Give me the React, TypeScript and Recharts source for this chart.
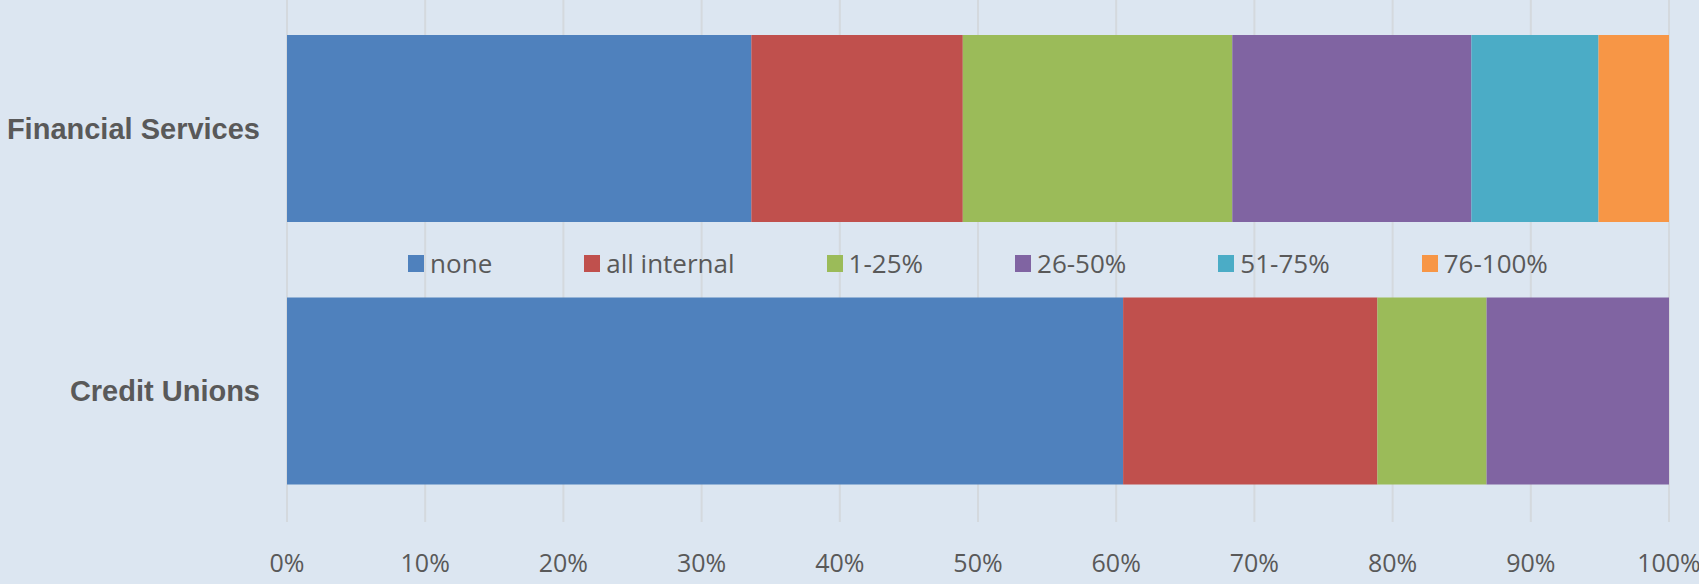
import React from "react"
import { Bar, BarChart, CartesianGrid, Legend, XAxis, YAxis } from "recharts"

const categories = ["Financial Services", "Credit Unions"]
const none = [33.6, 60.5]
const allInternal = [15.3, 18.4]
const pct1to25 = [19.5, 7.9]
const pct26to50 = [17.3, 13.2]
const pct51to75 = [9.2, 0]
const pct76to100 = [5.1, 0]
const xTicks = [0, 10, 20, 30, 40, 50, 60, 70, 80, 90, 100]

const SERIES = [
    { key: "none", name: "none", color: "#4F81BD", values: none },
    { key: "allInternal", name: "all internal", color: "#C0504D", values: allInternal },
    { key: "p1", name: "1-25%", color: "#9BBB59", values: pct1to25 },
    { key: "p26", name: "26-50%", color: "#8064A2", values: pct26to50 },
    { key: "p51", name: "51-75%", color: "#4BACC6", values: pct51to75 },
    { key: "p76", name: "76-100%", color: "#F79646", values: pct76to100 },
]

const data = categories.map((name, i) => {
    const row: Record<string, string | number> = { name }
    SERIES.forEach((s) => {
        row[s.key] = s.values[i]
    })
    return row
})

const TEXT = "#595959"
const BODY_FONT = "'Open Sans', sans-serif"

function LegendRow() {
    return (
        <div style={{ display: "flex", justifyContent: "center", gap: 92, fontFamily: BODY_FONT, fontSize: 26, color: TEXT }}>
            {SERIES.map((s) => (
                <div key={s.key} style={{ display: "flex", alignItems: "center", whiteSpace: "nowrap" }}>
                    <span style={{ width: 16, height: 17, background: s.color, marginRight: 6, display: "inline-block" }} />
                    <span>{s.name}</span>
                </div>
            ))}
        </div>
    )
}

export default function App() {
    return (
        <div style={{ position: "fixed", left: 0, top: 0, width: 1699, height: 584, background: "#DCE6F1" }}>
            <BarChart
                width={1699}
                height={584}
                data={data}
                layout="vertical"
                margin={{ top: -3, right: 30, bottom: 0, left: 0 }}
                barCategoryGap={38}
            >
                <CartesianGrid horizontal={false} stroke="#D4D9DE" strokeWidth={2} />
                <XAxis
                    type="number"
                    domain={[0, 100]}
                    ticks={xTicks}
                    tickFormatter={(v) => `${v}%`}
                    axisLine={false}
                    tickLine={false}
                    tickSize={0}
                    tickMargin={32}
                    height={62}
                    interval={0}
                    tick={{ fill: TEXT, fontSize: 25, fontFamily: BODY_FONT }}
                />
                <YAxis
                    type="category"
                    dataKey="name"
                    width={287}
                    axisLine={false}
                    tickLine={false}
                    tickSize={0}
                    tickMargin={27}
                    tick={{ fill: TEXT, fontSize: 29, fontWeight: "bold", fontFamily: "'Liberation Sans', Arial, sans-serif" }}
                />
                <Legend
                    layout="horizontal"
                    verticalAlign="middle"
                    align="center"
                    content={() => <LegendRow />}
                    wrapperStyle={{ position: "absolute", left: 287, width: 1382, top: 245 }}
                />
                {SERIES.map((s) => (
                    <Bar key={s.key} dataKey={s.key} name={s.name} stackId="a" fill={s.color} isAnimationActive={false} />
                ))}
            </BarChart>
        </div>
    )
}
